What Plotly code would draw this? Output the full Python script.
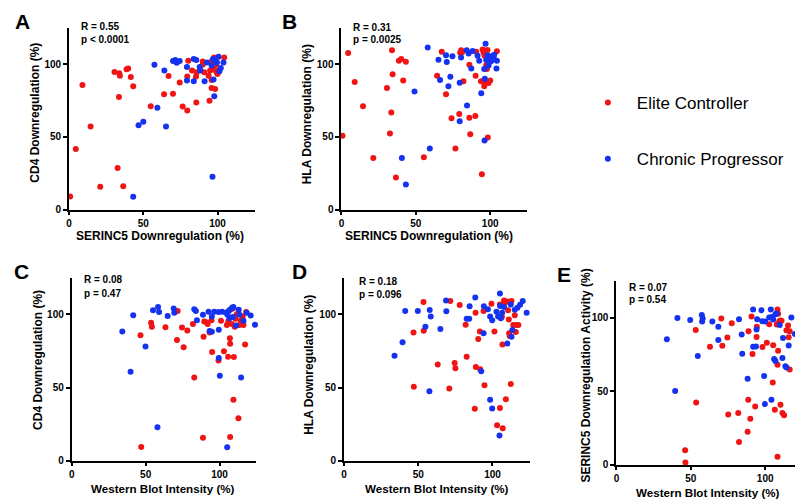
import plotly.graph_objects as go

W, H = 803, 499
RED = "#f01414"
BLUE = "#1432f0"
FONT = "Liberation Sans, Arial, sans-serif"

# ---------------- data ----------------
# Panel A: SERINC5 downregulation (x) vs CD4 downregulation (y)
A_ec_x = [0.7, 4.5, 9, 14.5, 21, 30.6, 33.8, 34.2, 33.6, 32.7, 36.5, 38.7, 39.8, 41.6, 43.2, 55, 64, 67, 70, 74.5,
          76.5, 79.6, 79.6, 80.3, 82.8, 85.7, 86, 85.5, 90, 90, 91, 94, 94.6, 95, 96, 96, 97.8, 99, 98.4, 97.8,
          99, 99.6, 100, 104.5, 95.7]
A_ec_y = [9, 41.6, 85.5, 57, 15.6, 94.6, 93.7, 92, 77.4, 28.5, 16, 96.4, 97, 91, 84.8, 71, 79.2, 91.8, 79.6, 87.3,
          70.8, 68, 91.4, 102.3, 95.5, 73.5, 94.3, 91.4, 101.8, 99.5, 94.3, 92, 74.7, 95.5, 89, 83.5, 96, 95.5, 82.8, 104.5,
          99.5, 94, 93.2, 104.5, 101.6]
A_cp_x = [57.5, 64.2, 59.5, 46.8, 50, 65.3, 43.2, 96.6, 70, 71.5, 73, 74.5, 72.5, 84, 85.7, 79.4, 79.4, 84, 88, 88.4,
          91.3, 92.8, 96.9, 98.4, 97.3, 97.8, 99.6, 100.7, 101.3, 102.2, 104, 96]
A_cp_y = [99.5, 95.5, 70, 58, 60.4, 57, 8.8, 22.6, 102, 102.8, 101.5, 102, 100.8, 103.4, 102.7, 98, 88.7, 88.2, 98, 95.5,
          88.2, 101, 103.4, 102.7, 89.4, 77.8, 101, 105, 95, 97.3, 101, 98.9]

# Panel B: SERINC5 downregulation (x) vs HLA downregulation (y)
B_ec_x = [0.7, 4.5, 8.9, 14.5, 21.4, 30.6, 34, 34.4, 33.5, 32.6, 36.6, 38.6, 40.2, 41.5, 43.3, 55.4, 64.3, 67.4, 70.3, 74,
          76.6, 79.2, 79.8, 80.5, 81, 82, 86, 86, 86.6, 90, 90.2, 90.6, 93.8, 94.4, 94.9, 95.5, 95.8, 96, 96.2, 97.3,
          97.8, 98.2, 98.4, 98.9, 100, 104.5]
B_ec_y = [50.7, 107.5, 87.6, 71, 35.5, 83.5, 109.5, 93, 66.7, 52.3, 22, 102.3, 103.4, 88.7, 101.6, 36, 92, 108.4, 79.2, 62.7,
          41.9, 65.6, 107.8, 109.5, 108, 88.2, 63.1, 99.5, 51.8, 64.3, 92, 108.4, 88.2, 24.2, 110, 108, 88, 84.8, 105.7, 99.3,
          96.6, 109.7, 49.5, 86.9, 88.7, 108.8]
B_cp_x = [58, 49.1, 40.6, 43.3, 59.4, 65.2, 66.3, 70.3, 70.8, 71.9, 73.2, 74.6, 79.5, 79.5, 80.4, 84.2, 84.4, 85.5, 87.3, 88.2,
          91.5, 92.6, 94, 96.2, 96.4, 96.9, 97.3, 98.2, 98.9, 99.6, 100.7, 101.1, 101.8, 100.4, 102.5, 102.7, 104.2, 104.5, 96]
B_cp_y = [111.3, 81.2, 35.5, 17.2, 41.9, 103, 89.1, 106, 101.4, 84.8, 91.2, 105.4, 87.1, 60.6, 104.5, 109.5, 71.5, 107.2, 97, 109,
          105.7, 102.3, 80, 47.5, 89.8, 114, 102.7, 106, 98.9, 103.8, 105, 102.7, 105.6, 101.8, 103.4, 106.3, 97, 102.3, 96.6]

# Panel C: Western blot intensity (x) vs CD4 downregulation (y)
C_ec_x = [47, 46.5, 53.7, 54.2, 63.4, 71.7, 71.2, 74.6, 75.7, 78.2, 82, 82.9, 89.2, 88.8, 89.7, 91.5, 92, 93.3, 94.6, 95,
          99.3, 101, 103, 105, 105.8, 106, 107, 107.2, 107.2, 108.3, 109, 109.4, 109.7, 110.3, 111.7, 112.8, 113.5, 114.4, 115.7, 116.2,
          117.3, 118, 110.8]
C_ec_y = [9.4, 85.6, 94.2, 91.5, 91.2, 102.2, 82.5, 91, 77.5, 89, 93.3, 56.9, 84.7, 15.7, 95, 94.4, 93.3, 87.6, 96, 74.2,
          68.5, 95.5, 74.8, 92.6, 71, 95.3, 83.6, 79.8, 16.2, 93.3, 104, 41.6, 70.8, 91.5, 100, 29, 92.6, 95.5, 98.4, 92.6,
          79.3, 101.6, 97]
C_cp_x = [34.2, 39.8, 41.6, 49.9, 55, 58.4, 59.1, 58, 64.9, 69, 69.4, 82.9, 84, 84.7, 88.8, 92.6, 93.3, 94.8, 94.8, 96.4,
          99.3, 99.5, 99.5, 100.2, 101.8, 104.5, 105.4, 106.1, 107.2, 108.5, 109.4, 105.2, 106.7, 111.2, 113, 113.5, 114.6, 116.2, 118.4, 121.1,
          124, 109]
C_cp_y = [88.3, 60.7, 99.3, 78, 102.7, 105, 101.6, 22.9, 98.9, 104, 101, 103.4, 102.2, 96, 99.6, 101.8, 88.5, 88, 98.4, 101.8,
          101.6, 89.4, 70.1, 58, 101.8, 101.1, 99.6, 102.2, 103.1, 104.5, 105, 9.2, 97.3, 92.4, 103.1, 99.6, 56.9, 95.5, 101.1, 99.1,
          92.8, 98.2]

# Panel D: Western blot intensity (x) vs HLA downregulation (y)
D_ec_x = [46.8, 47, 53.5, 53.7, 63.1, 70.9, 71.6, 74.5, 75, 77.9, 81.9, 82.6, 88.1, 88.6, 88.8, 90.4, 91.5, 91.7, 94, 94.6,
          99.3, 101.3, 103.1, 105, 105, 106.3, 106.7, 106.9, 107.8, 108.9, 110, 107.4, 109, 110.5, 111, 111.2, 111.6, 112.3, 112.8, 114,
          115, 115.7, 116, 117.4]
D_ec_y = [87.6, 50.6, 108.3, 88.8, 65.8, 49.4, 109, 66.7, 63.1, 106.3, 92.8, 71, 35.5, 101.1, 64, 83.1, 88.3, 62.5, 102.2, 51.5,
          107.2, 88.3, 24.3, 36, 106.7, 98.2, 79.3, 22.2, 109.4, 108.3, 108.8, 106.8, 42, 102.7, 96.4, 87, 85.2, 52.4, 109, 92.6,
          99.3, 87.9, 92.6, 92.6]
D_cp_x = [34, 39.4, 41.2, 49.7, 54.8, 57.7, 58.4, 57.5, 64.9, 68.7, 68.9, 82.6, 84.3, 84.6, 88.4, 92.4, 94, 94.2, 96.9, 98.4,
          98.4, 99.8, 99.8, 102.7, 103.8, 104.7, 105, 105.1, 105.6, 106.5, 110, 112.3, 112.8, 113.4, 115, 116.8, 118.6, 120.4, 123, 107.8]
D_cp_y = [71.7, 80.9, 102.2, 102.2, 91.5, 102.9, 98.4, 47.4, 89.9, 109.4, 102, 97, 97, 105.4, 111.5, 61.1, 87, 105.4, 103.4, 41.6,
          98.4, 96, 35.7, 101.8, 98.4, 17.3, 114.2, 105.6, 97.3, 101.1, 80, 106.7, 84.7, 89.2, 103.1, 104.5, 106.5, 109, 101.1, 105]

# Panel E: Western blot intensity (x) vs SERINC5 downregulation activity (y)
E_ec_x = [46.2, 46.4, 53.3, 53.6, 62.9, 70.5, 71.2, 74.6, 75.2, 77.5, 81.9, 82.4, 88.2, 88.6, 88.8, 90, 90.8, 91.5, 93.3, 94.2,
          94.4, 98.2, 101.1, 102.7, 105.4, 105.1, 106.5, 108.3, 108.7, 109.5, 110.2, 107.8, 108.3, 108.7, 108.3, 110.3, 111, 111.6, 112.7, 114.3,
          115.4, 115.8, 116.5, 116.5]
E_ec_y = [9.8, 1.6, 91.5, 42.3, 80.1, 99.3, 80.8, 86.4, 34.2, 96.2, 35.1, 15.4, 22.4, 44.1, 90.6, 31.3, 100.7, 75.2, 39.6, 86.8,
          93.7, 79.9, 82.8, 95.5, 81.2, 55.9, 37.4, 105.4, 102.5, 97.5, 97.9, 95.2, 68, 77.4, 5.4, 40.7, 97.8, 35.1, 33.6, 91.3,
          94.6, 86.6, 90.6, 64.7]
E_cp_x = [33.9, 39.5, 41, 49.6, 54.7, 57.4, 58, 57.6, 64.5, 68.5, 68.5, 82.4, 84.2, 84.6, 88.2, 91.9, 91.9, 93.8, 94.2, 94.6,
          97.5, 98, 99.3, 99.8, 100, 102.7, 103.8, 104.2, 104.5, 105.4, 106.9, 107.6, 106, 106.9, 109.8, 111.6, 112, 113.6, 114.3, 115.8,
          117.6, 120, 123]
E_cp_y = [85.2, 50.1, 99.6, 98.4, 73.8, 101.8, 99.3, 97.3, 97.3, 93.7, 84.8, 98.9, 88.4, 75.4, 58.4, 105.4, 80.1, 80.3, 91.9, 98.9,
          104.9, 97.5, 60.2, 41.2, 97.3, 100, 105.4, 44.1, 100.4, 98.7, 102.2, 102.7, 71.8, 70.5, 95, 72.5, 86.1, 66.9, 66, 81,
          100, 88.8, 100.9]

PANEL_LETTERS = ["A", "B", "C", "D", "E"]
STATS = [("R = 0.55", "p < 0.0001"), ("R = 0.31", "p = 0.0025"), ("R = 0.08", "p = 0.47"),
         ("R = 0.18", "p = 0.096"), ("R = 0.07", "p = 0.54")]
X_TITLES = ["SERINC5 Downregulation (%)", "SERINC5 Downregulation (%)", "Western Blot Intensity (%)",
            "Western Blot Intensity (%)", "Western Blot Intensity (%)"]
Y_TITLES = ["CD4 Downregulation (%)", "HLA Downregulation (%)", "CD4 Downregulation (%)",
            "HLA Downregulation (%)", "SERINC5 Downregulation Activity (%)"]
TICKS = [0, 50, 100]
AX_MAX = 125
SERIES_NAMES = ["Elite Controller", "Chronic Progressor"]

panels = [
    (A_ec_x, A_ec_y, A_cp_x, A_cp_y),
    (B_ec_x, B_ec_y, B_cp_x, B_cp_y),
    (C_ec_x, C_ec_y, C_cp_x, C_cp_y),
    (D_ec_x, D_ec_y, D_cp_x, D_cp_y),
    (E_ec_x, E_ec_y, E_cp_x, E_cp_y),
]

# ---------------- layout geometry (pixels) ----------------
# (x of y-axis, px per unit x, y of x-axis, px per unit y)
geom = [
    (58.3, 1.49, 204.0, 1.473),
    (331.7, 1.493, 204.0, 1.473),
    (61.0, 1.483, 458.3, 1.483),
    (334.3, 1.49, 458.3, 1.483),
    (607.7, 1.493, 462.3, 1.49),
]
letter_pos = [(11.5, 13.5), (279.5, 13.5), (11, 266.5), (289.5, 266.5), (555.5, 270)]
stat_pos = [(68, 19, 32), (341, 19.3, 31.7), (71.7, 275, 289.3), (347.7, 276.7, 290), (618.3, 282.7, 295)]
xt_pos = [(149.5, 231), (420, 231), (153, 486), (427.5, 486), (700, 490)]
yt_pos = [(24, 106), (296.7, 108), (27.3, 356), (298.3, 361), (576.7, 372.5)]


def px(x):
    return x / W


def py(y):
    return 1 - y / H


fig = go.Figure()
layout = dict(
    width=W, height=H, margin=dict(l=0, r=0, t=0, b=0),
    paper_bgcolor="white", plot_bgcolor="white",
    font=dict(family=FONT, color="black"),
    showlegend=True,
)

annotations = []
for i, ((ecx, ecy, cpx, cpy), (x0, ux, y0, uy)) in enumerate(zip(panels, geom)):
    n = "" if i == 0 else str(i + 1)
    xa, ya = "x" + n, "y" + n
    fig.add_trace(go.Scatter(x=ecx, y=ecy, mode="markers", name=SERIES_NAMES[0], xaxis=xa, yaxis=ya,
                             marker=dict(color=RED, size=6, line=dict(width=0)), cliponaxis=False,
                             legendgroup="ec", showlegend=(i == 0)))
    fig.add_trace(go.Scatter(x=cpx, y=cpy, mode="markers", name=SERIES_NAMES[1], xaxis=xa, yaxis=ya,
                             marker=dict(color=BLUE, size=6, line=dict(width=0)), cliponaxis=False,
                             legendgroup="cp", showlegend=(i == 0)))
    axcommon = dict(range=[0, AX_MAX], showline=True, linecolor="black", linewidth=2, ticks="outside",
                    ticklen=4, tickwidth=2, tickcolor="black", tickvals=TICKS, showgrid=False, zeroline=False,
                    tickfont=dict(family=FONT, size=10, color="black", weight="bold"), fixedrange=True)
    layout["xaxis" + n] = dict(axcommon, domain=[px(x0), px(x0 + ux * AX_MAX)], anchor=ya, ticklen=3)
    layout["yaxis" + n] = dict(axcommon, domain=[py(y0), py(y0 - uy * AX_MAX)], anchor=xa)

    lx, ly = letter_pos[i]
    annotations.append(dict(text="<b>%s</b>" % PANEL_LETTERS[i], x=px(lx), y=py(ly), xref="paper", yref="paper",
                            showarrow=False, xanchor="center", yanchor="middle",
                            font=dict(family=FONT, size=21, color="black")))
    sx, sy1, sy2 = stat_pos[i]
    for txt, sy in zip(STATS[i], (sy1, sy2)):
        annotations.append(dict(text="<b>%s</b>" % txt, x=px(sx), y=py(sy), xref="paper", yref="paper",
                                showarrow=False, xanchor="left", yanchor="middle",
                                font=dict(family=FONT, size=10, color="black")))
    tx, ty = xt_pos[i]
    annotations.append(dict(text="<b>%s</b>" % X_TITLES[i], x=px(tx), y=py(ty), xref="paper", yref="paper",
                            showarrow=False, xanchor="center", yanchor="middle",
                            font=dict(family=FONT, size=12 if i < 2 else 11.6, color="black")))
    tx, ty = yt_pos[i]
    annotations.append(dict(text="<b>%s</b>" % Y_TITLES[i], x=px(tx), y=py(ty), xref="paper", yref="paper",
                            showarrow=False, xanchor="center", yanchor="middle", textangle=-90,
                            font=dict(family=FONT, size=12, color="black")))

layout["annotations"] = annotations
layout["legend"] = dict(x=px(570), y=py(78), xanchor="left", yanchor="top", itemwidth=48,
                        font=dict(family=FONT, size=17, color="black"), tracegroupgap=31,
                        bgcolor="rgba(0,0,0,0)", borderwidth=0, itemclick=False, itemdoubleclick=False)
fig.update_layout(**layout)
fig.write_html("out.html")
